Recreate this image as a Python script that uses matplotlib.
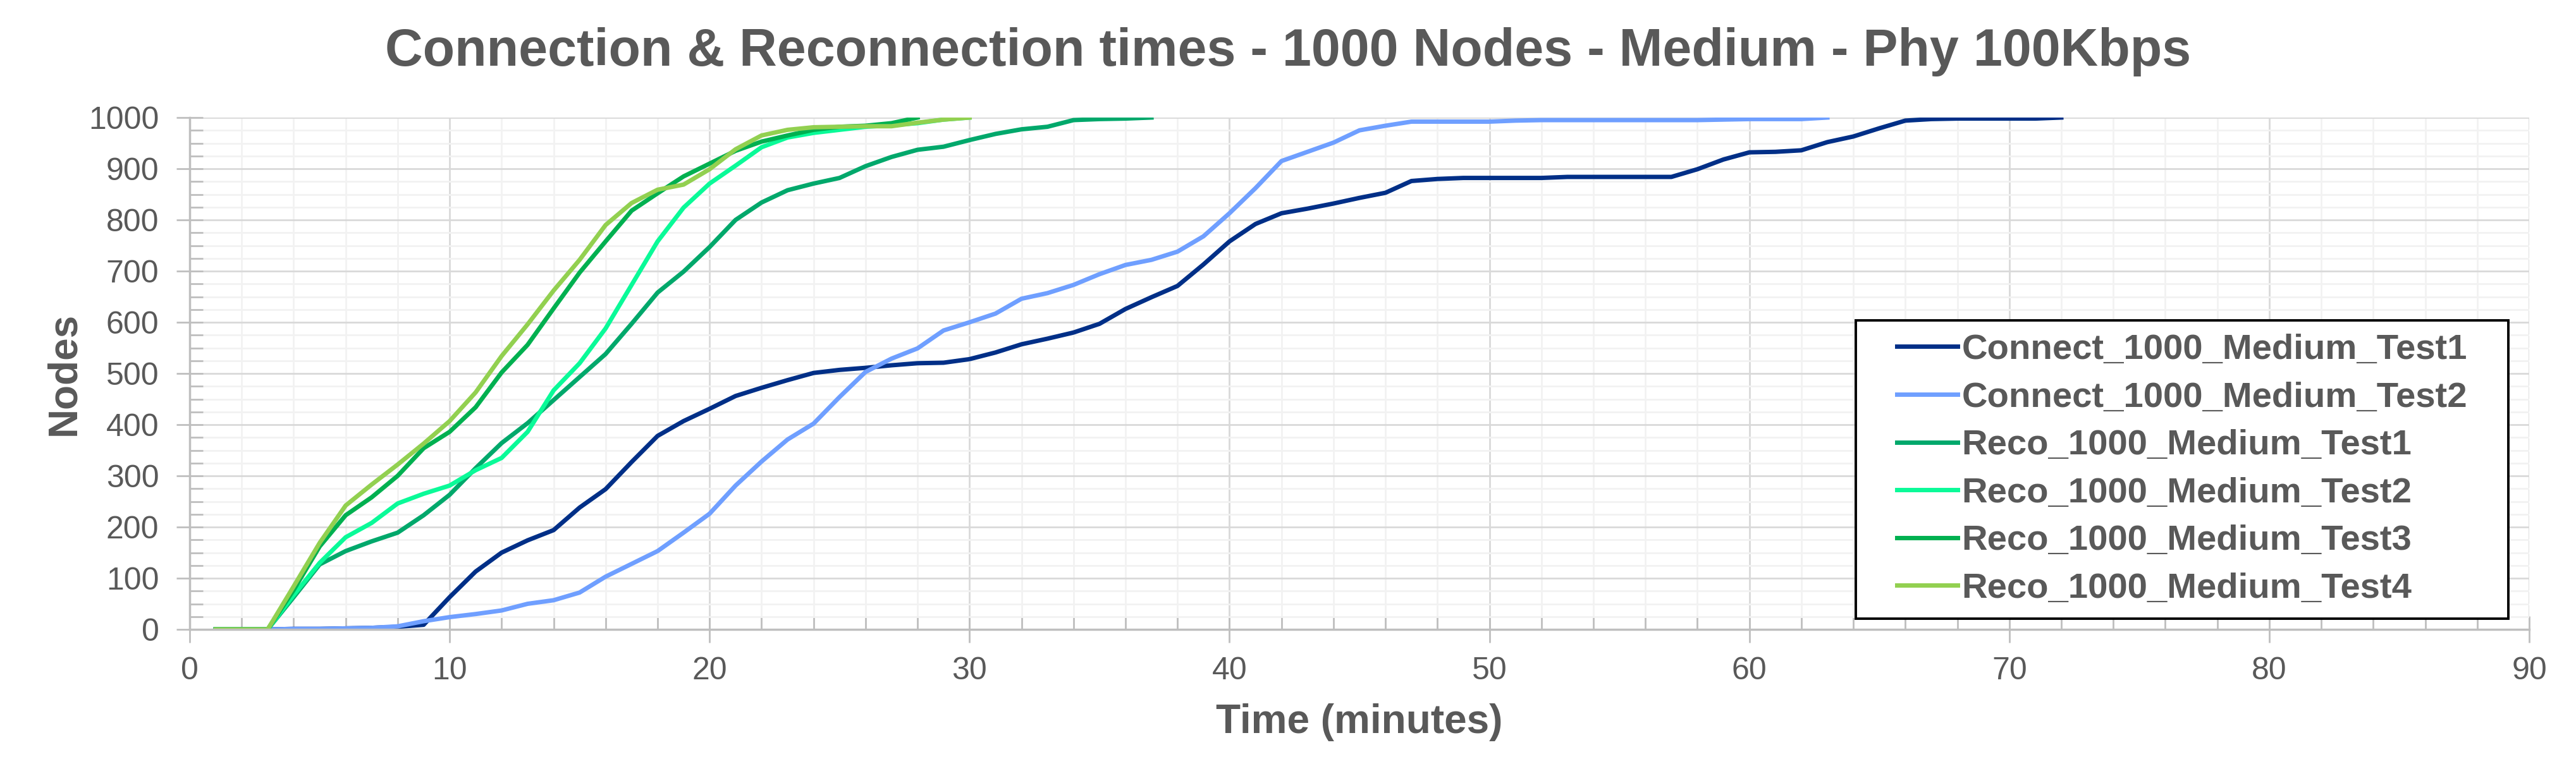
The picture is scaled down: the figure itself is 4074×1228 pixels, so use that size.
import matplotlib
matplotlib.use("Agg")
import matplotlib.pyplot as plt
from matplotlib.ticker import MultipleLocator
from matplotlib.patches import Rectangle

plt.rcParams['font.family'] = ['Liberation Sans', 'DejaVu Sans']

# values, one point per minute starting at minute 1
connect_test1 = [0, 0, 0, 1, 1, 2, 3, 5, 9, 63, 113, 150, 174, 194, 238, 274, 327, 378, 407, 431,
                 456, 472, 487, 501, 507, 511, 516, 520, 521, 528, 541, 557, 568, 580, 597, 626, 649, 671, 713, 758,
                 792, 813, 822, 832, 843, 853, 876, 880, 882, 882, 882, 882, 884, 884, 884, 884, 884, 899, 918, 932,
                 933, 936, 952, 963, 979, 994, 997, 998, 998, 998, 998, 1000]
connect_test2 = [0, 0, 0, 1, 1, 2, 3, 6, 16, 24, 30, 37, 50, 57, 72, 103, 128, 153, 189, 226,
                 281, 328, 371, 402, 454, 503, 529, 549, 584, 600, 617, 646, 657, 673, 694, 712, 722, 738, 768, 813,
                 862, 915, 933, 951, 975, 984, 992, 992, 992, 992, 994, 995, 995, 995, 995, 995, 995, 995, 996, 997,
                 997, 997, 1000]
reco_test1 = [0, 0, 0, 63, 127, 153, 172, 189, 223, 263, 315, 364, 403, 448, 493, 538, 597, 658, 699, 747,
              800, 834, 858, 871, 882, 905, 923, 937, 943, 956, 968, 977, 982, 995, 997, 998, 1000]
reco_test2 = [0, 0, 0, 67, 130, 180, 208, 246, 265, 281, 311, 335, 386, 467, 520, 588, 673, 758, 824, 871,
              906, 942, 961, 970, 976, 982, 985, 989, 996, 1000]
reco_test3 = [0, 0, 0, 77, 162, 223, 258, 300, 354, 386, 434, 502, 556, 627, 697, 758, 818, 852, 885, 910,
              935, 953, 965, 976, 982, 984, 989, 1000]
reco_test4 = [0, 0, 0, 84, 169, 242, 283, 322, 363, 407, 463, 534, 596, 662, 722, 790, 833, 859, 869, 899,
              938, 965, 976, 981, 982, 983, 983, 990, 996, 1000]

series = [connect_test1, connect_test2, reco_test1, reco_test2, reco_test3, reco_test4]
labels = ['Connect_1000_Medium_Test1', 'Connect_1000_Medium_Test2', 'Reco_1000_Medium_Test1',
          'Reco_1000_Medium_Test2', 'Reco_1000_Medium_Test3', 'Reco_1000_Medium_Test4']
colors = ['#002F87', '#6F9FFF', '#00A86B', '#0AFA98', '#00B050', '#92D050']

grey_text = '#595959'

fig = plt.figure(figsize=(40.74, 12.28), dpi=100)
ax = fig.add_axes([300 / 4074, 232 / 1228, 3700 / 4074, 810 / 1228])

for vals, lab, col in zip(series, labels, colors):
    minutes = list(range(1, len(vals) + 1))
    ax.plot(minutes, vals, color=col, lw=5, label=lab, solid_joinstyle='round')

ax.set_xlim(0, 90)
ax.set_ylim(0, 1000)
ax.xaxis.set_major_locator(MultipleLocator(10))
ax.xaxis.set_minor_locator(MultipleLocator(2))
ax.yaxis.set_major_locator(MultipleLocator(100))
ax.yaxis.set_minor_locator(MultipleLocator(25))

ax.grid(which='major', color='#D9D9D9', lw=2)
ax.grid(which='minor', color='#F2F2F2', lw=2)
ax.set_axisbelow(True)

for s in ['top', 'right']:
    ax.spines[s].set_visible(False)
for s in ['left', 'bottom']:
    ax.spines[s].set_color('#BFBFBF')
    ax.spines[s].set_linewidth(2.5)

ax.tick_params(which='major', direction='inout', length=30, width=2, color='#BFBFBF',
               labelsize=36, labelcolor=grey_text)
ax.tick_params(which='minor', direction='in', length=15, width=2, color='#BFBFBF')
ax.tick_params(axis='x', which='major', pad=16)
ax.tick_params(axis='y', which='major', pad=20)

ax.set_xlabel('Time (minutes)', fontsize=46, fontweight='bold', color=grey_text)
ax.set_ylabel('Nodes', fontsize=46, fontweight='bold', color=grey_text)
ax.xaxis.set_label_coords(0.5, -0.145)
ax.yaxis.set_label_coords(-0.0457, 0.5)

fig.text(0.5, 1 - 82 / 1228, 'Connection & Reconnection times - 1000 Nodes - Medium - Phy 100Kbps',
         ha='center', va='center', fontsize=59.5, fontweight='bold', color=grey_text)

# legend box drawn separately, legend entries centred inside it
box_x0, box_x1 = (2935 - 300) / 3700, (3967 - 300) / 3700
box_y0, box_y1 = (996 - 979) / 810, (996 - 507) / 810
ax.add_patch(Rectangle((box_x0, box_y0), box_x1 - box_x0, box_y1 - box_y0, transform=ax.transAxes,
                       facecolor='white', edgecolor='black', lw=2.8, zorder=5))

leg = ax.legend(loc='center', bbox_to_anchor=((box_x0 + box_x1) / 2, (box_y0 + box_y1) / 2),
                frameon=False, handlelength=1.7, handletextpad=0.12, labelspacing=0.42,
                borderpad=0, borderaxespad=0, prop={'weight': 'bold', 'size': 40.5})
leg.set_zorder(6)
for t in leg.get_texts():
    t.set_color(grey_text)
for h in leg.get_lines():
    h.set_linewidth(5)

fig.savefig('out.png', dpi=100, facecolor='white')
